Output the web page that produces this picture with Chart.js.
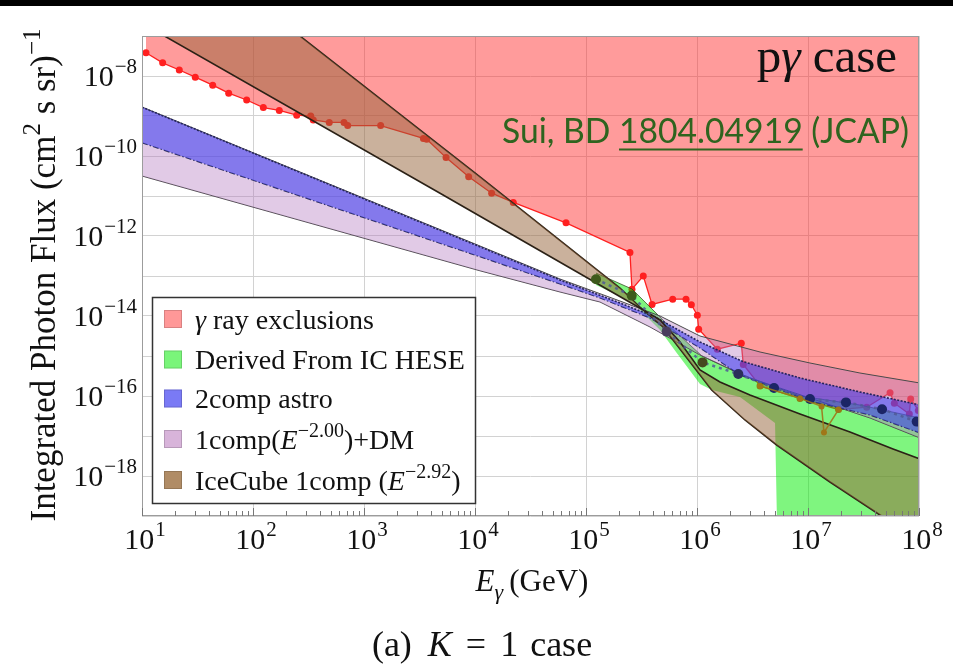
<!DOCTYPE html>
<html>
<head>
<meta charset="utf-8">
<script src="https://cdn.jsdelivr.net/npm/chart.js@4.4.1/dist/chart.umd.min.js"></script>
<style>
  html, body { margin: 0; padding: 0; background: #fff; }
  #wrap { position: relative; width: 953px; height: 669px; }
</style>
</head>
<body>
<div id="wrap"><canvas id="c" width="953" height="669"></canvas></div>
<script>
// all values are log10 (E in GeV, integrated flux in (cm^2 s sr)^-1)

// gamma ray exclusion curve (region above is excluded)
const redLogE = [1.036,1.186,1.336,1.480,1.637,1.781,1.943,2.093,2.237,2.394,2.520,2.543,2.687,2.820,2.853,3.150,3.535,3.565,3.739,3.943,4.150,4.345,4.820,5.396,5.414,5.516,5.595,5.781,5.901,5.949,6.003,6.015,6.183,6.399,6.417,6.568,6.928,7.275,7.529,7.739,7.778,7.913,7.925,7.994];
const redLogF = [-7.42,-7.67,-7.85,-8.03,-8.23,-8.43,-8.60,-8.79,-8.86,-8.98,-9.00,-9.10,-9.16,-9.16,-9.24,-9.24,-9.56,-9.58,-10.04,-10.52,-10.93,-11.16,-11.67,-12.41,-13.33,-13.00,-13.71,-13.58,-13.58,-13.72,-13.98,-14.33,-14.83,-14.68,-15.21,-15.75,-16.06,-16.34,-16.28,-15.92,-16.18,-16.45,-16.075,-16.36];

// derived from IC HESE band
const heseTopLogE = [5.090,5.414,5.730,6.045,6.387,6.928,7.468,8.009];
const heseTopLogF = [-12.925,-13.325,-14.20,-15.00,-15.45,-16.00,-16.225,-16.55];
const heseBotLogE = [5.090,5.414,5.667,5.811,6.027,6.135,6.387,6.703,6.721,8.009];
const heseBotLogF = [-13.225,-13.65,-14.35,-14.90,-15.70,-15.85,-16.025,-16.675,-19.20,-19.20];
const heseMidLogE = [5.090,5.412,5.727,6.050,6.372,6.694,7.018,7.342,7.667,7.979];
const heseMidLogF = [-13.08,-13.49,-14.39,-15.16,-15.45,-15.80,-16.075,-16.16,-16.33,-16.64];

// 1comp(E^-2.00)+DM band
const dmTopLogE = [1.0,4.045,4.766,5.306,5.667,6.027,6.568,7.018,7.468,8.009];
const dmTopLogF = [-8.775,-12.25,-13.075,-13.625,-14.00,-14.50,-14.90,-15.175,-15.425,-15.675];
const dmBotLogE = [1.0,4.045,4.766,5.126,5.577,6.027,6.477,7.018,7.559,8.009];
const dmBotLogF = [-10.50,-12.87,-13.40,-13.65,-14.275,-14.975,-15.55,-16.05,-16.55,-17.05];

// 2comp astro band
const astroTopLogE = [1.0,4.045,4.766,5.306,5.622,6.027,6.414,6.928,7.468,8.009];
const astroTopLogF = [-8.78,-12.27,-13.10,-13.675,-14.025,-14.65,-15.14,-15.55,-15.90,-16.225];
const astroBotLogE = [1.0,4.045,4.766,5.126,5.577,6.027,6.387,7.018,7.559,8.009];
const astroBotLogF = [-9.67,-12.52,-13.20,-13.55,-14.05,-14.80,-15.475,-16.125,-16.475,-16.925];

// IceCube 1comp (E^-2.92) bow tie
const icAEdgeLogE = [1.0,3.685,5.096,5.486,5.667,5.847,6.027,6.207,6.477,6.928,7.378,7.766,8.009];
const icAEdgeLogF = [-6.68,-10.93,-13.18,-13.80,-14.10,-14.65,-15.35,-15.65,-15.975,-16.45,-16.90,-17.325,-17.575];
const icBEdgeLogE = [1.0,2.408,4.045,5.306,5.486,5.694,5.937,6.132,6.432,6.718,7.198,7.649,8.009];
const icBEdgeLogF = [-3.92,-6.968,-10.52,-13.30,-13.775,-14.275,-15.15,-15.85,-16.60,-17.225,-18.15,-18.975,-19.60];

// small extra point set near 10^7 GeV
const extraLogE = [6.568,6.928,7.122,7.144,7.275];
const extraLogF = [-15.75,-16.06,-16.26,-16.91,-16.34];

const xDecades = [1,2,3,4,5,6,7,8];
const yDecades = [-19,-18,-17,-16,-15,-14,-13,-12,-11,-10,-9,-8,-7];
const yLabelExps = [-18,-16,-14,-12,-10,-8];

const pts = (le, lf) => le.map((e, i) => ({ x: 10 ** e, y: 10 ** lf[i] }));

const SERIF = '"Liberation Serif", "DejaVu Serif", serif';
const midDotColors = ['#3d5a1c','#3d5a1c','#4a3d5e','#45481f','#2b2f5a','#1c2566','#1c2566','#1c2566','#1c2566','#1c2566'];

const legendItems = [
  { color: '#ff9898', parts: [{ t: '\u03B3', it: true }, { t: ' ray exclusions' }] },
  { color: '#7af57a', parts: [{ t: 'Derived From IC HESE' }] },
  { color: '#7a7af5', parts: [{ t: '2comp astro' }] },
  { color: '#d8b4da', parts: [{ t: '1comp(' }, { t: 'E', it: true }, { t: '\u22122.00', sup: true }, { t: ')+DM' }] },
  { color: '#b08c66', parts: [{ t: 'IceCube 1comp (' }, { t: 'E', it: true }, { t: '\u22122.92', sup: true }, { t: ')' }] }
];

function rich(ctx, parts, x, y, size, measureOnly){
  let cx = x;
  parts.forEach(p => {
    const s = (p.sup || p.sub) ? Math.round(size * 0.7) : size;
    ctx.font = (p.it ? 'italic ' : '') + s + 'px ' + SERIF;
    let dy = 0;
    if(p.sup) dy = -size * 0.42;
    if(p.sub) dy = size * 0.25;
    if(!measureOnly) ctx.fillText(p.t, cx, y + dy);
    cx += ctx.measureText(p.t).width + (p.gap || 0);
  });
  return cx - x;
}

function pow10(ctx, xp, yp, exp, align){
  const sup = exp < 0 ? '\u2212' + (-exp) : String(exp);
  const parts = [{ t: '10', gap: 1 }, { t: sup, sup: true }];
  const w = rich(ctx, parts, 0, 0, 30, true);
  const x0 = align === 'right' ? xp - w : xp - w / 2;
  rich(ctx, parts, x0, yp, 30);
}

const decor = {
  id: 'decor',
  afterDraw(chart){
    const { ctx, chartArea: a, scales: { x, y } } = chart;
    ctx.save();

    // black strip along the top of the image
    ctx.fillStyle = '#000';
    ctx.fillRect(0, 0, 953, 6);

    // frame
    ctx.strokeStyle = '#9c9c9c';
    ctx.lineWidth = 1;
    ctx.strokeRect(a.left + 0.5, a.top + 0.5, a.right - a.left - 1, a.bottom - a.top - 1);

    // x minor/major ticks along the bottom
    ctx.strokeStyle = '#777';
    for(let d = 1; d <= 8; d++){
      for(let m = 1; m <= 9; m++){
        const v = m * 10 ** d;
        if(v > 1e8) break;
        const px = Math.round(x.getPixelForValue(v)) + 0.5;
        const len = m === 1 ? 8 : 5;
        ctx.beginPath();
        ctx.moveTo(px, a.bottom);
        ctx.lineTo(px, a.bottom - len);
        ctx.stroke();
      }
    }

    ctx.fillStyle = '#111';
    ctx.textBaseline = 'alphabetic';
    ctx.textAlign = 'left';

    // tick labels
    yLabelExps.forEach(e => pow10(ctx, a.left - 5, y.getPixelForValue(10 ** e) + 10, e, 'right'));
    xDecades.forEach(e => pow10(ctx, x.getPixelForValue(10 ** e) + 3, a.bottom + 33, e, 'center'));

    // x title
    const xt = [{ t: 'E', it: true }, { t: '\u03B3', it: true, sub: true, gap: 6 }, { t: '(GeV)' }];
    const xw = rich(ctx, xt, 0, 0, 31, true);
    rich(ctx, xt, 532 - xw / 2, 591, 31);

    // y title
    ctx.save();
    ctx.translate(55, 275);
    ctx.rotate(-Math.PI / 2);
    const yt = [{ t: 'Integrated Photon Flux (cm' }, { t: '2', sup: true }, { t: ' s sr)' }, { t: '\u22121', sup: true }];
    const yw = rich(ctx, yt, 0, 0, 35, true);
    rich(ctx, yt, -yw / 2, 0, 35);
    ctx.restore();

    // caption
    const cap = [{ t: '(a)', gap: 16 }, { t: 'K', it: true, gap: 14 }, { t: '=', gap: 14 }, { t: '1', gap: 12 }, { t: 'case' }];
    const cw = rich(ctx, cap, 0, 0, 36, true);
    rich(ctx, cap, 482 - cw / 2, 656, 36);

    // p gamma case
    const pg = [{ t: 'p' }, { t: '\u03B3', it: true }, { t: ' case' }];
    const pw = rich(ctx, pg, 0, 0, 49, true);
    rich(ctx, pg, 897 - pw, 72, 49);

    // reference note
    ctx.save();
    ctx.fillStyle = '#2f641f';
    ctx.strokeStyle = '#2f641f';
    ctx.font = '35px Lato, "Open Sans", sans-serif';
    const s1 = 'Sui, BD ', s2 = '1804.04919', s3 = ' (JCAP)';
    const w1 = ctx.measureText(s1).width, w2 = ctx.measureText(s2).width, w3 = ctx.measureText(s3).width;
    const sx = 407 / (w1 + w2 + w3);
    ctx.translate(502, 143);
    ctx.scale(sx, 1);
    ctx.fillText(s1 + s2 + s3, 0, 0);
    ctx.lineWidth = 2 / sx;
    ctx.beginPath();
    ctx.moveTo(w1, 6.5);
    ctx.lineTo(w1 + w2, 6.5);
    ctx.stroke();
    ctx.restore();

    // legend
    ctx.fillStyle = '#fff';
    ctx.fillRect(152, 297, 324, 207);
    ctx.strokeStyle = '#333';
    ctx.lineWidth = 1.5;
    ctx.strokeRect(152.5, 297.5, 323, 206);
    const rows = [319, 359.5, 398.5, 439, 480];
    legendItems.forEach((it, i) => {
      ctx.fillStyle = it.color;
      ctx.fillRect(164, rows[i] - 9, 18, 18);
      ctx.strokeStyle = 'rgba(0,0,0,0.15)';
      ctx.lineWidth = 1;
      ctx.strokeRect(164.5, rows[i] - 8.5, 17, 17);
      ctx.fillStyle = '#111';
      rich(ctx, it.parts, 195, rows[i] + 9.5, 28);
    });

    ctx.restore();
  }
};

const chart = new Chart(document.getElementById('c'), {
  type: 'line',
  data: {
    datasets: [
      {
        label: 'gamma ray exclusions', data: pts(redLogE, redLogF), order: 10,
        fill: 'end', backgroundColor: 'rgba(255,45,45,0.48)',
        borderColor: '#ff2020', borderWidth: 1.3,
        pointRadius: 3.5, pointBackgroundColor: '#ff2020', pointBorderWidth: 0
      },
      {
        label: 'HESE top', data: pts(heseTopLogE, heseTopLogF), order: 9,
        fill: '+1', backgroundColor: 'rgba(0,235,0,0.5)',
        borderColor: 'rgba(40,60,20,0.7)', borderWidth: 1
      },
      {
        label: 'HESE bottom', data: pts(heseBotLogE, heseBotLogF), order: 9,
        fill: false, borderWidth: 0, borderColor: 'rgba(0,0,0,0)'
      },
      {
        label: 'DM top', data: pts(dmTopLogE, dmTopLogF), order: 8,
        fill: '+1', backgroundColor: 'rgba(175,115,190,0.38)',
        borderColor: '#4a4a4a', borderWidth: 1
      },
      {
        label: 'DM bottom', data: pts(dmBotLogE, dmBotLogF), order: 8,
        fill: false, borderColor: '#4a4a4a', borderWidth: 1
      },
      {
        label: 'astro top', data: pts(astroTopLogE, astroTopLogF), order: 7,
        fill: '+1', backgroundColor: 'rgba(55,55,240,0.55)',
        borderColor: '#24245e', borderWidth: 1.6, borderDash: [2, 1.5]
      },
      {
        label: 'astro bottom', data: pts(astroBotLogE, astroBotLogF), order: 7,
        fill: false, borderColor: '#333355', borderWidth: 1.2, borderDash: [6, 2, 1.5, 2]
      },
      {
        label: 'IceCube edge a', data: pts(icAEdgeLogE, icAEdgeLogF), order: 6,
        fill: '+1', backgroundColor: 'rgba(150,100,58,0.5)',
        borderColor: '#2b2116', borderWidth: 1.6
      },
      {
        label: 'IceCube edge b', data: pts(icBEdgeLogE, icBEdgeLogF), order: 6,
        fill: false, borderColor: '#2b2116', borderWidth: 1.6
      },
      {
        label: 'HESE central', data: pts(heseMidLogE, heseMidLogF), order: 2,
        fill: false, borderColor: 'rgba(80,90,150,0.85)', borderWidth: 2.5, borderDash: [3, 4],
        pointRadius: 5, pointBackgroundColor: midDotColors, pointBorderWidth: 0
      },
      {
        label: 'extra', data: pts(extraLogE, extraLogF), order: 1,
        fill: false, borderColor: 'rgba(160,118,24,0.9)', borderWidth: 1.5,
        pointRadius: 3, pointBackgroundColor: '#a07618', pointBorderWidth: 0
      }
    ]
  },
  options: {
    responsive: false,
    animation: false,
    devicePixelRatio: 1,
    layout: { padding: { left: 142, right: 34, top: 36, bottom: 153 } },
    plugins: { legend: { display: false }, tooltip: { enabled: false } },
    elements: { point: { radius: 0 }, line: { tension: 0 } },
    scales: {
      x: {
        type: 'logarithmic', min: 10, max: 1e8,
        afterBuildTicks: s => { s.ticks = xDecades.map(e => ({ value: 10 ** e })); },
        ticks: { display: false },
        grid: { color: '#d2d2d2', lineWidth: 1, drawTicks: false },
        border: { display: false }
      },
      y: {
        type: 'logarithmic', min: 1e-19, max: 1e-7,
        afterBuildTicks: s => { s.ticks = yDecades.map(e => ({ value: 10 ** e })); },
        ticks: { display: false },
        grid: { color: '#d2d2d2', lineWidth: 1, drawTicks: false },
        border: { display: false }
      }
    }
  },
  plugins: [decor]
});
</script>
</body>
</html>
